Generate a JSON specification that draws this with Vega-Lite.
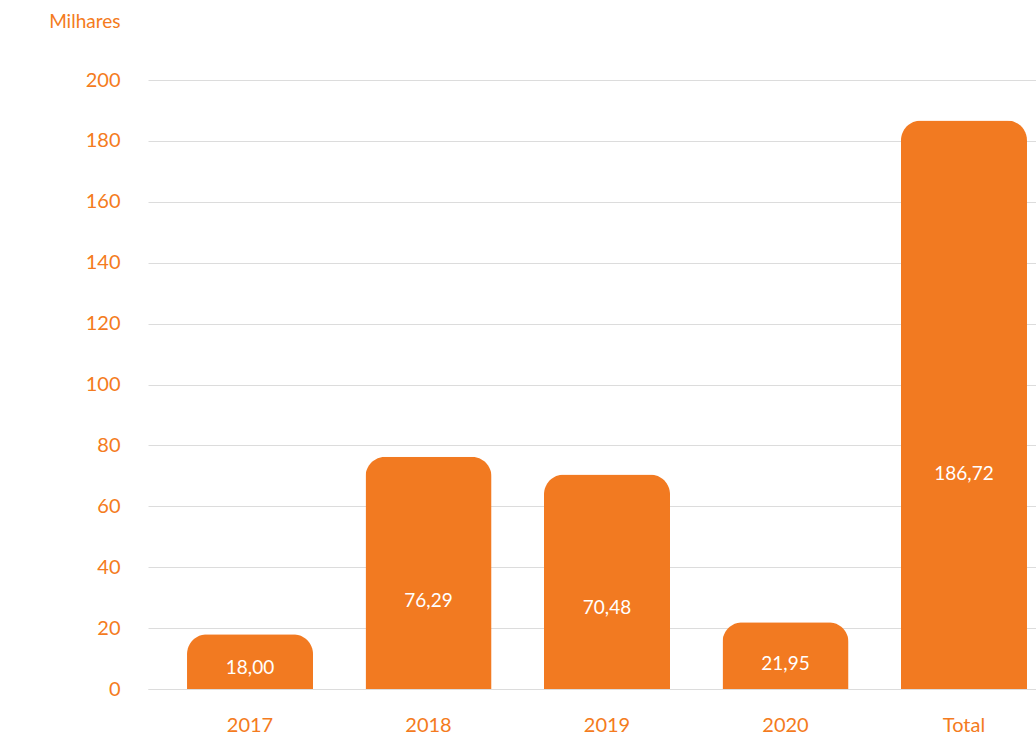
{
  "$schema": "https://vega.github.io/schema/vega-lite/v6.json",
  "autosize": {"type": "none"},
  "width": 888,
  "height": 609,
  "padding": {"left": 148, "top": 80, "right": 0, "bottom": 45},
  "background": "white",
  "data": {"values": [
    {"ano": "2017", "valor": 18.00},
    {"ano": "2018", "valor": 76.29},
    {"ano": "2019", "valor": 70.48},
    {"ano": "2020", "valor": 21.95},
    {"ano": "Total", "valor": 186.72}
  ]},
  "config": {
    "font": "Lato",
    "view": {"stroke": null},
    "locale": {"number": {"decimal": ",", "thousands": ".", "grouping": [3], "currency": ["R$", ""]}}
  },
  "encoding": {
    "x": {
      "field": "ano", "type": "nominal", "sort": null,
      "scale": {"paddingInner": 0.294, "paddingOuter": 0.1345, "align": 0.8125},
      "axis": {"title": null, "labelAngle": 0, "labelColor": "#F47B20", "labelFontSize": 20, "labelPadding": 26, "ticks": false, "domainColor": "#dcdcdc", "domainWidth": 1, "labelFont": "Lato"}
    }
  },
  "layer": [
    {
      "mark": {"type": "bar", "color": "#F27A21", "cornerRadiusTopLeft": 20, "cornerRadiusTopRight": 20},
      "encoding": {
        "y": {
          "field": "valor", "type": "quantitative",
          "scale": {"domain": [0, 200], "nice": false},
          "axis": {
            "values": [0, 20, 40, 60, 80, 100, 120, 140, 160, 180, 200],
            "title": "Milhares", "titleAngle": 0, "titleAlign": "right", "titleBaseline": "middle",
            "titleX": -28, "titleY": -59, "titleColor": "#F47B20", "titleFontSize": 19, "titleFontWeight": "normal", "titleFont": "Lato",
            "labelColor": "#F47B20", "labelFontSize": 20, "labelPadding": 28, "ticks": false, "domain": false,
            "gridColor": "#dcdcdc", "gridWidth": 1, "labelFont": "Lato"
          }
        }
      }
    },
    {
      "mark": {"type": "text", "color": "white", "fontSize": 19, "font": "Lato", "baseline": "middle"},
      "encoding": {
        "y": {"field": "valor", "type": "quantitative", "scale": {"domain": [0, 530], "nice": false}, "axis": null},
        "text": {"field": "valor", "type": "quantitative", "format": ".2f"}
      }
    }
  ],
  "resolve": {"scale": {"y": "independent"}}
}
